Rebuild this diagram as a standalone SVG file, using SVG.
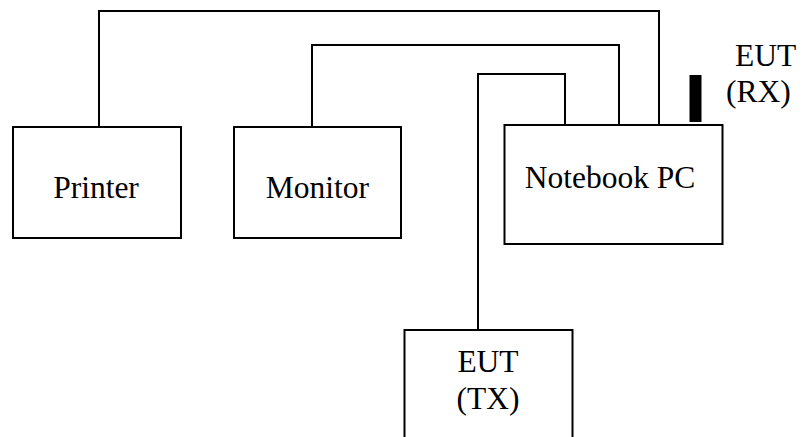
<svg xmlns="http://www.w3.org/2000/svg" width="803" height="437" viewBox="0 0 803 437">
<style>
.box{fill:#fff;stroke:#000;stroke-width:2}
.wire{fill:none;stroke:#000;stroke-width:2}
.t{font-family:'Liberation Serif','Times New Roman',serif;font-size:31.5px;fill:#000}
</style>
<rect width="803" height="437" fill="#fff"/>
<g id="connectors">
<polyline class="wire" points="99,127 99,11 659,11 659,125"/>
<polyline class="wire" points="312,127 312,45 619,45 619,125"/>
<polyline class="wire" points="478,330 478,74 565,74 565,125"/>
</g>
<g id="printer">
<rect class="box" x="13" y="127" width="168" height="111"/>
<text class="t" x="96" y="198" text-anchor="middle">Printer</text>
</g>
<g id="monitor">
<rect class="box" x="234" y="127" width="167" height="111"/>
<text class="t" x="317.5" y="198" text-anchor="middle">Monitor</text>
</g>
<g id="notebook">
<rect class="box" x="504.5" y="125" width="218" height="119"/>
<text class="t" x="610" y="188" text-anchor="middle">Notebook PC</text>
</g>
<g id="eut-rx">
<rect x="689.5" y="75" width="12" height="47" fill="#000"/>
<text class="t" x="735" y="66">EUT</text>
<text class="t" x="726" y="102">(RX)</text>
</g>
<g id="eut-tx">
<rect class="box" x="404.5" y="330" width="168" height="120"/>
<text class="t" x="488" y="371.5" text-anchor="middle">EUT</text>
<text class="t" x="488" y="409" text-anchor="middle">(TX)</text>
</g>
</svg>
